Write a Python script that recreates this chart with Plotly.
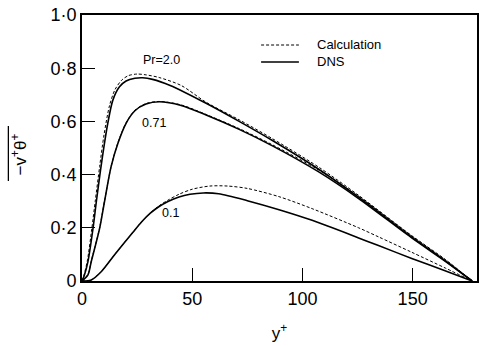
import plotly.graph_objects as go

# Turbulent heat flux profiles across the channel half-width
# DNS (solid) vs model calculation (dashed) for three Prandtl numbers

# Pr = 2.0
yp_pr20_dns = [0, 1, 2.7, 5, 6.5, 8.4, 10.2, 11.7, 14, 17, 20, 24, 27.5, 32, 40,
               56.3, 71.3, 86.4, 107.4, 125.5, 149.6, 165, 177]
vt_pr20_dns = [0, 0.02, 0.073, 0.198, 0.298, 0.417, 0.518, 0.593, 0.68, 0.73, 0.752,
               0.762, 0.764, 0.758, 0.735, 0.668, 0.6, 0.528, 0.42, 0.315,
               0.165, 0.075, 0]
yp_pr20_calc = [0, 1, 2.5, 4.5, 6, 8, 10, 12.5, 15, 18, 21, 25, 29, 35, 45,
                56.3, 71.3, 86.4, 107.4, 125.5, 149.6, 165, 177]
vt_pr20_calc = [0, 0.025, 0.08, 0.2, 0.3, 0.43, 0.55, 0.66, 0.72, 0.755, 0.772,
                0.778, 0.775, 0.765, 0.735, 0.672, 0.606, 0.535, 0.428, 0.322,
                0.17, 0.078, 0]

# Pr = 0.71
yp_pr071_dns = [0, 2.7, 4.2, 8, 10.2, 13.2, 16.3, 20, 24, 29, 35, 45, 56.3, 71.3,
                86.4, 107.4, 125.5, 149.6, 165, 177]
vt_pr071_dns = [0, 0.023, 0.073, 0.198, 0.298, 0.43, 0.518, 0.593, 0.64, 0.665,
                0.674, 0.66, 0.624, 0.57, 0.508, 0.41, 0.31, 0.162, 0.073, 0]
yp_pr071_calc = yp_pr071_dns
vt_pr071_calc = [0, 0.025, 0.075, 0.2, 0.3, 0.43, 0.52, 0.595, 0.642, 0.667,
                 0.675, 0.662, 0.626, 0.573, 0.512, 0.417, 0.318, 0.17, 0.08, 0]

# Pr = 0.1
yp_pr01_dns = [0, 4.2, 8.7, 14.7, 19, 23, 27, 31, 35, 39, 44, 49, 55, 62,
               75, 89.4, 104.4, 125.5, 134.5, 149.6, 165, 177]
vt_pr01_dns = [0, 0.004, 0.035, 0.098, 0.142, 0.182, 0.222, 0.255, 0.28, 0.299,
               0.316, 0.326, 0.331, 0.328, 0.302, 0.268, 0.228, 0.162, 0.133,
               0.085, 0.038, 0]
yp_pr01_calc = [0, 4.2, 8.7, 14.7, 19, 23, 27, 31, 35, 39, 44, 50, 58, 66,
                75, 89.4, 104.4, 125.5, 134.5, 149.6, 165, 177]
vt_pr01_calc = [0, 0.004, 0.035, 0.098, 0.142, 0.182, 0.222, 0.256, 0.283,
                0.304, 0.326, 0.345, 0.357, 0.357, 0.348, 0.317, 0.272, 0.2,
                0.166, 0.108, 0.048, 0]

x_ticks = [0, 50, 100, 150]
x_ticktext = ["0", "50", "100", "150"]
y_ticks = [0, 0.2, 0.4, 0.6, 0.8, 1.0]
y_ticktext = ["0", "0·2", "0·4", "0·6", "0·8", "1·0"]

curve_labels = ["Pr=2.0", "0.71", "0.1"]
label_x = [36, 32.5, 40]
label_y = [0.83, 0.594, 0.256]

FONT = "Liberation Sans, Arial, sans-serif"

fig = go.Figure()

solid = dict(color="black", width=1.6, shape="spline", smoothing=0.8)
dashed = dict(color="black", width=1.0, dash="3px,2px", shape="spline", smoothing=0.8)

for xs, ys in [(yp_pr20_calc, vt_pr20_calc), (yp_pr071_calc, vt_pr071_calc),
               (yp_pr01_calc, vt_pr01_calc)]:
    fig.add_trace(go.Scatter(x=xs, y=ys, mode="lines", line=dashed,
                             showlegend=False, hoverinfo="skip"))
for xs, ys in [(yp_pr20_dns, vt_pr20_dns), (yp_pr071_dns, vt_pr071_dns),
               (yp_pr01_dns, vt_pr01_dns)]:
    fig.add_trace(go.Scatter(x=xs, y=ys, mode="lines", line=solid,
                             showlegend=False, hoverinfo="skip"))

for t, lx, ly in zip(curve_labels, label_x, label_y):
    fig.add_annotation(x=lx, y=ly, text=t, showarrow=False,
                       font=dict(family=FONT, size=12.5, color="black"))

# Key drawn inside the frame
key_items = [("Calculation", "3px,2px", 1.0, 45), ("DNS", "solid", 1.6, 62)]
for name, dash, w, py in key_items:
    yp = 1 - (py - 15) / 266
    fig.add_shape(type="line", xref="paper", yref="paper",
                  x0=(262 - 82) / 397, x1=(300 - 82) / 397, y0=yp, y1=yp,
                  line=dict(color="black", width=w, dash=dash))
    fig.add_annotation(xref="paper", yref="paper", x=(316 - 82) / 397, y=yp,
                       xanchor="left", yanchor="middle", text=name, showarrow=False,
                       font=dict(family=FONT, size=13, color="black"))

# Rotated y-axis title with an overbar
fig.add_annotation(xref="paper", yref="paper", x=0, y=0.476, xshift=-63,
                   xanchor="center", yanchor="middle",
                   textangle=-90, showarrow=False,
                   text="−v<sup>+</sup>θ<sup>+</sup>",
                   font=dict(family=FONT, size=17, color="black"))
fig.add_shape(type="line", xref="paper", yref="paper",
              x0=(8 - 82) / 397, x1=(8 - 82) / 397,
              y0=1 - (181 - 15) / 266, y1=1 - (126 - 15) / 266,
              line=dict(color="black", width=1.3))

XR = [0, 179.2]
YR = [0, 1.0]

fig.update_layout(
    width=480, height=346,
    margin=dict(l=82, r=1, t=15, b=65),
    paper_bgcolor="white", plot_bgcolor="white",
    font=dict(family=FONT, color="black"),
    xaxis=dict(range=XR, tickvals=x_ticks, ticktext=x_ticktext,
               ticks="inside", ticklen=13, tickwidth=1.2, tickcolor="black",
               showline=True, linewidth=2, linecolor="black", mirror=True,
               showgrid=False, zeroline=False,
               tickfont=dict(family=FONT, size=18),
               title=dict(text="y<sup>+</sup>", font=dict(family=FONT, size=17),
                          standoff=20)),
    yaxis=dict(range=YR, tickvals=y_ticks, ticktext=y_ticktext,
               ticks="inside", ticklen=13, tickwidth=1.2, tickcolor="black",
               showline=True, linewidth=2, linecolor="black", mirror=True,
               showgrid=False, zeroline=False,
               tickfont=dict(family=FONT, size=18)),
    xaxis2=dict(range=XR, overlaying="x", side="top", tickvals=x_ticks,
                ticks="inside", ticklen=6, tickwidth=1.2, tickcolor="black",
                showticklabels=False, showgrid=False, zeroline=False, showline=False),
    yaxis2=dict(range=YR, overlaying="y", side="right", tickvals=y_ticks,
                ticks="inside", ticklen=6, tickwidth=1.2, tickcolor="black",
                showticklabels=False, showgrid=False, zeroline=False, showline=False),
)

fig.write_html("out.html")
